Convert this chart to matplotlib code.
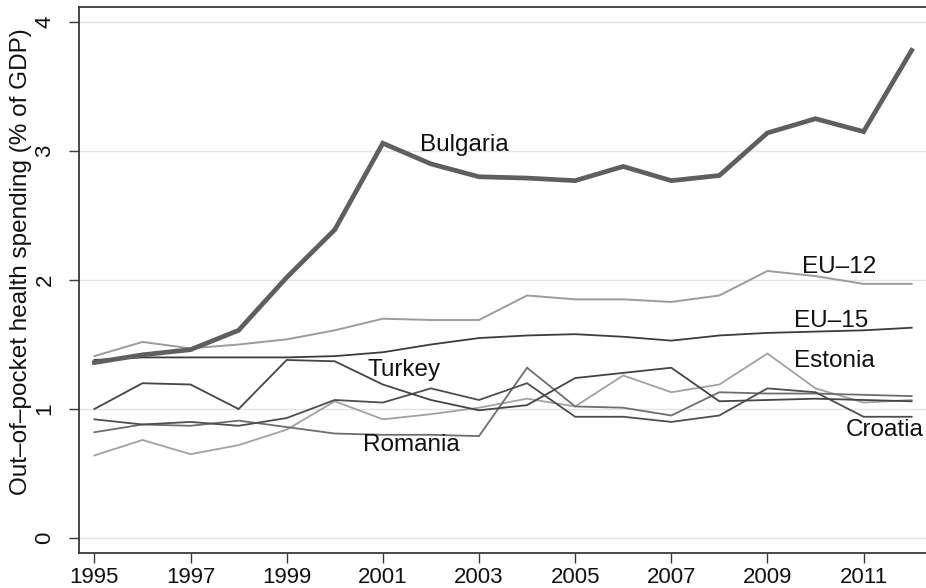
import matplotlib
matplotlib.use("Agg")
import matplotlib.pyplot as plt

plt.rcParams['font.family'] = ['Liberation Sans', 'DejaVu Sans']

years = list(range(1995, 2013))

bulgaria = [1.36, 1.42, 1.46, 1.61, 2.02, 2.39, 3.06, 2.90, 2.80, 2.79, 2.77, 2.88, 2.77, 2.81, 3.14, 3.25, 3.15, 3.78]
eu12 = [1.41, 1.52, 1.47, 1.50, 1.54, 1.61, 1.70, 1.69, 1.69, 1.88, 1.85, 1.85, 1.83, 1.88, 2.07, 2.03, 1.97, 1.97]
eu15 = [1.38, 1.40, 1.40, 1.40, 1.40, 1.41, 1.44, 1.50, 1.55, 1.57, 1.58, 1.56, 1.53, 1.57, 1.59, 1.60, 1.61, 1.63]
turkey = [1.00, 1.20, 1.19, 1.00, 1.38, 1.37, 1.19, 1.07, 0.99, 1.03, 1.24, 1.28, 1.32, 1.06, 1.07, 1.08, 1.07, 1.06]
romania = [0.82, 0.88, 0.87, 0.91, 0.86, 0.81, 0.80, 0.80, 0.79, 1.32, 1.02, 1.01, 0.95, 1.13, 1.12, 1.12, 1.11, 1.10]
croatia = [0.92, 0.88, 0.90, 0.87, 0.93, 1.07, 1.05, 1.16, 1.07, 1.20, 0.94, 0.94, 0.90, 0.95, 1.16, 1.13, 0.94, 0.94]
estonia = [0.64, 0.76, 0.65, 0.72, 0.84, 1.06, 0.92, 0.96, 1.01, 1.08, 1.02, 1.26, 1.13, 1.19, 1.43, 1.16, 1.05, 1.07]

x_ticks = list(range(1995, 2012, 2))
y_ticks = [0, 1, 2, 3, 4]
y_tick_labels = ["0", "1", "2", "3", "4"]

fig = plt.figure(figsize=(9.26, 5.88), dpi=100)
ax = fig.add_axes([79 / 926, 35 / 588, (928 - 79) / 926, (553 - 7) / 588])

series = [
    (estonia, "#a2a2a2", 1.3),
    (romania, "#6e6e6e", 1.3),
    (croatia, "#4e4e4e", 1.3),
    (turkey, "#454545", 1.3),
    (eu15, "#3c3c3c", 1.3),
    (eu12, "#9c9c9c", 1.4),
    (bulgaria, "#5f5f5f", 3.4),
]
for vals, col, lw in series:
    ax.plot(years, vals, color=col, lw=lw, solid_joinstyle="miter", zorder=3)

ax.set_xlim(1994.68, 2012.34)
ax.set_ylim(-0.116, 4.116)
ax.set_xticks(x_ticks)
ax.set_xticklabels([str(y) for y in x_ticks])
ax.set_yticks(y_ticks)
ax.set_yticklabels(y_tick_labels, rotation=90, va="center")
ax.grid(axis="y", color="#e3e3e3", lw=1.0, zorder=0)
ax.grid(axis="x", visible=False)

for side in ["left", "bottom", "top", "right"]:
    ax.spines[side].set_color("#3a3a3a")
    ax.spines[side].set_linewidth(1.3)

ax.tick_params(axis="both", direction="out", length=7, width=1.0, color="#3a3a3a",
               labelsize=16, labelcolor="#111111")
ax.tick_params(axis="y", pad=10)
ax.tick_params(axis="x", pad=3)

ax.set_ylabel("Out–of–pocket health spending (% of GDP)", fontsize=17.5, color="#111111")
ax.yaxis.set_label_coords(-0.055, 0.533)

label_kw = dict(fontsize=17.5, color="#111111", va="center", ha="left", zorder=4)
ax.text(2001.77, 3.05, "Bulgaria", **label_kw)
ax.text(2009.71, 2.10, "EU–12", **label_kw)
ax.text(2009.56, 1.68, "EU–15", **label_kw)
ax.text(2009.56, 1.37, "Estonia", **label_kw)
ax.text(2000.69, 1.30, "Turkey", **label_kw)
ax.text(2000.58, 0.72, "Romania", **label_kw)
ax.text(2010.62, 0.84, "Croatia", **label_kw)

fig.savefig("out.png", dpi=100)
